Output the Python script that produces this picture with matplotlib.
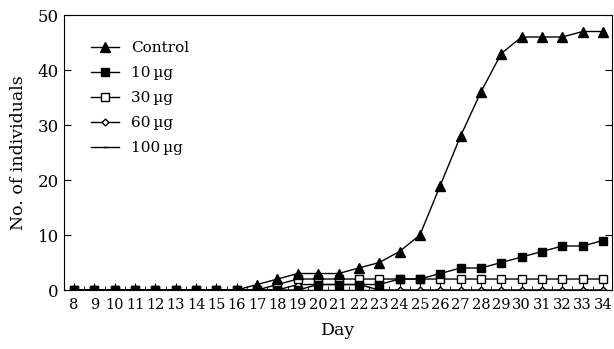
import matplotlib.pyplot as plt
from matplotlib.ticker import MultipleLocator

plt.rcParams['font.family'] = ['DejaVu Serif']

days = list(range(8, 35))
control = [0, 0, 0, 0, 0, 0, 0, 0, 0, 1, 2, 3, 3, 3, 4, 5, 7, 10, 19, 28, 36, 43, 46, 46, 46, 47, 47]
ug10 = [0, 0, 0, 0, 0, 0, 0, 0, 0, 0, 0, 0, 1, 1, 1, 1, 2, 2, 3, 4, 4, 5, 6, 7, 8, 8, 9]
ug30 = [0, 0, 0, 0, 0, 0, 0, 0, 0, 0, 1, 2, 2, 2, 2, 2, 2, 2, 2, 2, 2, 2, 2, 2, 2, 2, 2]
ug60 = [0, 0, 0, 0, 0, 0, 0, 0, 0, 0, 0, 1, 1, 1, 1, 0, 0, 0, 0, 0, 0, 0, 0, 0, 0, 0, 0]
ug100 = [0] * len(days)

fig = plt.figure(figsize=(6.14, 3.49), dpi=100)
ax = fig.add_axes([0.104, 0.169, 0.893, 0.788])

ax.plot(days, control, color="black", lw=1, marker="^", ms=7, label="Control", zorder=4)
ax.plot(days, ug10, color="black", lw=1, marker="s", ms=6, label="10\u2009\u00b5g", zorder=6)
ax.plot(days, ug30, color="black", lw=1, marker="s", ms=6, mfc="white", label="30\u2009\u00b5g", zorder=3)
ax.plot(days, ug60, color="black", lw=1, marker="D", ms=3.5, mfc="white", label="60\u2009\u00b5g", zorder=2)
ax.plot(days, ug100, color="black", lw=1, marker="_", ms=3, label="100\u2009\u00b5g", zorder=2)

ax.set_xlim(7.5, 34.45)
ax.set_ylim(0, 50)
ax.set_xticks(days)
ax.xaxis.set_minor_locator(MultipleLocator(0.5))
ax.yaxis.set_major_locator(MultipleLocator(10))
ax.tick_params(axis="both", which="both", direction="in")
ax.tick_params(axis="x", which="major", length=5, pad=6, labelsize=10.5)
ax.tick_params(axis="x", which="minor", length=3)
ax.tick_params(axis="y", which="major", length=5, right=True, labelsize=12)

ax.set_xlabel("Day", fontsize=12.5, labelpad=7)
ax.set_ylabel("No. of individuals", fontsize=12.5, labelpad=8)

ax.legend(loc="upper left", bbox_to_anchor=(0.025, 0.955), frameon=False,
          fontsize=11, handlelength=1.8, labelspacing=0.72)

fig.savefig("out.png", dpi=100)
